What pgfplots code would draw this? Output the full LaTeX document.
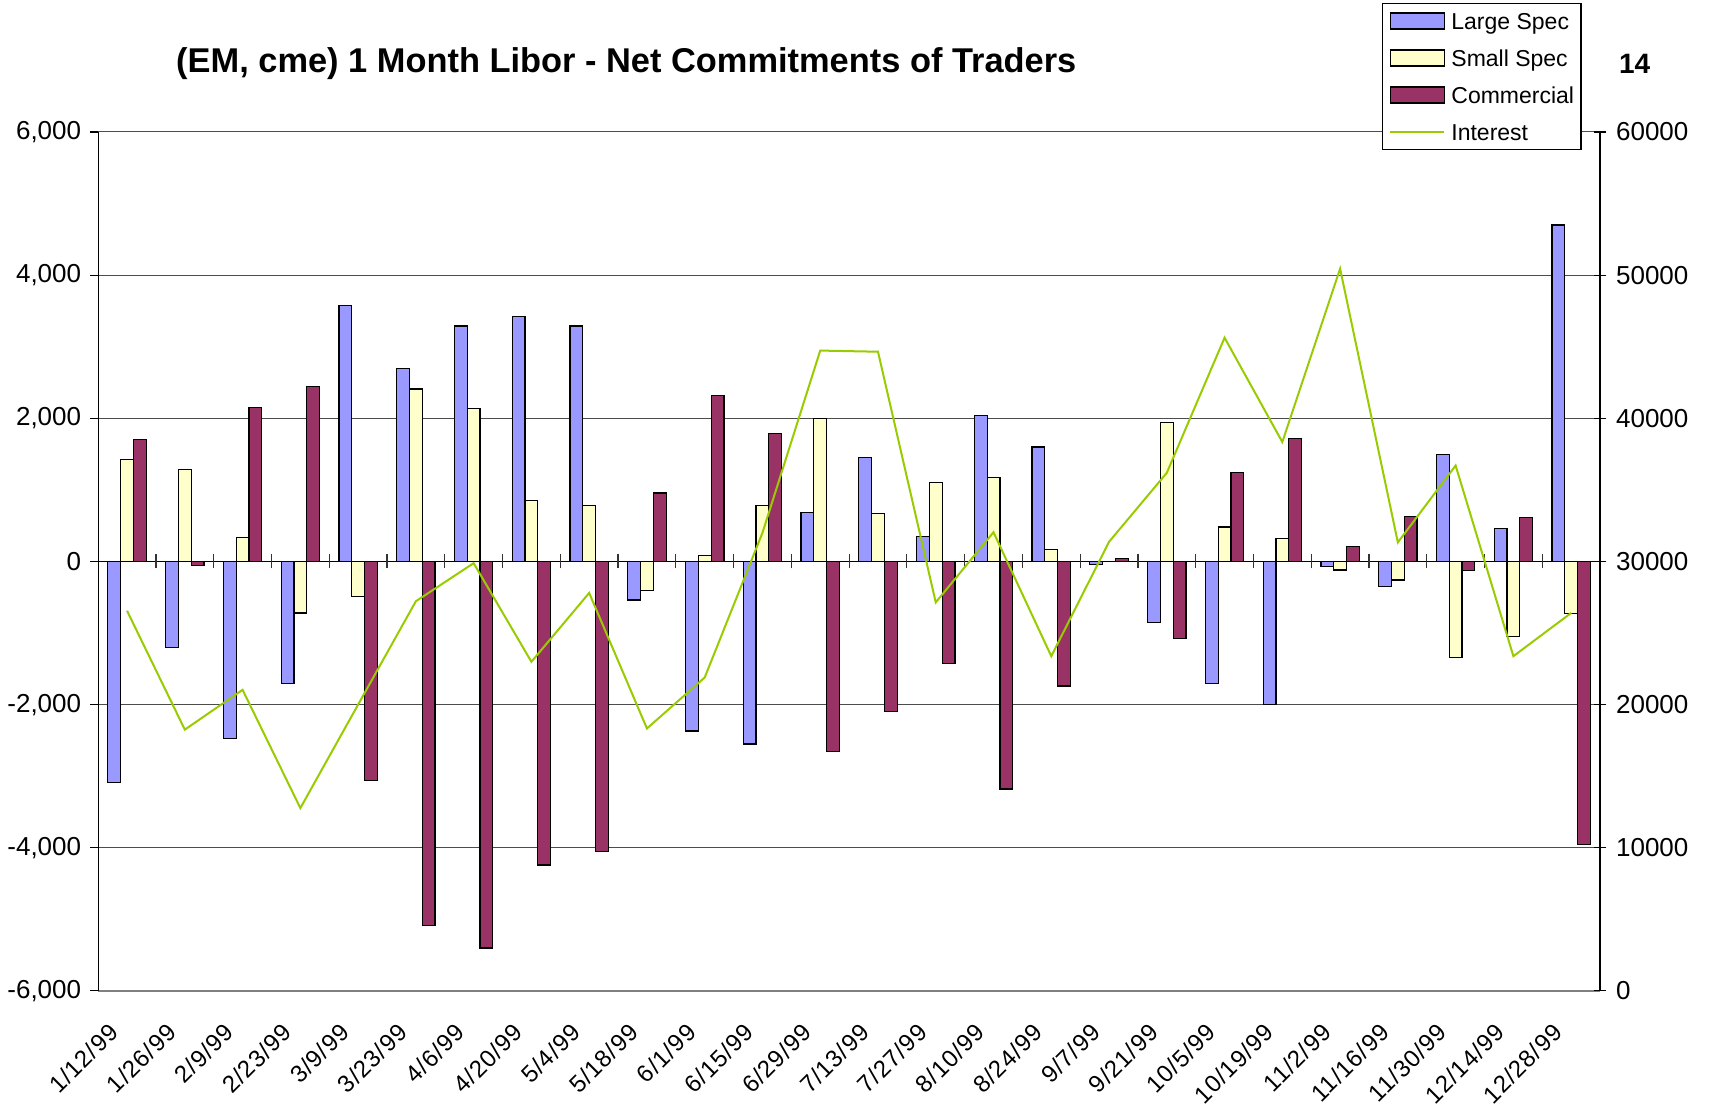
\documentclass[border=0pt]{standalone}
\usepackage{pgfplots}
\pgfplotsset{compat=1.18}
\usepackage{fontspec}
\setmainfont{Liberation Sans}
\newfontfamily\datefont[LetterSpace=4]{Liberation Sans}
\definecolor{lspec}{HTML}{9999FF}
\definecolor{sspec}{HTML}{FFFFCC}
\definecolor{comm}{HTML}{993366}
\definecolor{intr}{HTML}{99CC00}
\newcommand\tfont{\fontsize{13}{15}\selectfont}
\begin{document}
\begin{tikzpicture}
\useasboundingbox (-49.1pt,-58.5pt) rectangle (806.5pt,495.5pt);
\begin{axis}[
  name=bars,
  at={(0pt,0pt)}, anchor=south west,
  scale only axis, width=751pt, height=429.5pt,
  xmin=-0.5, xmax=25.5, ymin=-6000, ymax=6000,
  scaled y ticks=false,
  ybar=0pt, bar width=6.4pt,
  axis x line=bottom, axis y line=left,
  x axis line style={-, draw=gray, line width=1.3pt},
  y axis line style={-, black, line width=0.6pt},
  xtick={0,...,25},
  xticklabels={1/12/99,1/26/99,2/9/99,2/23/99,3/9/99,3/23/99,4/6/99,4/20/99,5/4/99,5/18/99,6/1/99,6/15/99,6/29/99,7/13/99,7/27/99,8/10/99,8/24/99,9/7/99,9/21/99,10/5/99,10/19/99,11/2/99,11/16/99,11/30/99,12/14/99,12/28/99},
  major x tick style={draw=none},
  xtick align=inside,
  xticklabel style={font=\datefont\fontsize{12}{14}\selectfont, xshift=-6.5pt, yshift=-18.5pt, rotate=45, anchor=east, inner sep=0pt},
  ytick={-6000,-4000,...,6000},
  yticklabels={{-6,000},{-4,000},{-2,000},0,{2,000},{4,000},{6,000}},
  ytick align=outside, major tick length=4pt,
  major y tick style={black, line width=0.6pt},
  yticklabel style={font=\tfont, xshift=-1pt},
  ymajorgrids, major grid style={black!70, line width=0.5pt},
  legend style={at={(0.8547,1.1502)}, anchor=north west, draw=black, fill=white,
    line width=0.6pt,
    font=\fontsize{11.5}{13}\selectfont, inner xsep=3.5pt, inner ysep=3pt,
    row sep=7pt, nodes={text height=10pt, text depth=1.5pt, inner sep=0pt},
    /tikz/every odd column/.append style={column sep=3pt}},
  legend cell align=left,
  clip=false,
]
\addplot[fill=lspec, draw=black, line width=0.6pt,
  legend image code/.code={\draw[fill=lspec, draw=black, line width=0.6pt] (0pt,-4pt) rectangle (27pt,4pt);}]
  coordinates {(0,-3090)(1,-1200)(2,-2470)(3,-1710)(4,3580)(5,2700)(6,3290)(7,3420)(8,3290)(9,-540)(10,-2370)(11,-2550)(12,680)(13,1455)(14,345)(15,2040)(16,1600)(17,-40)(18,-850)(19,-1700)(20,-2000)(21,-70)(22,-350)(23,1490)(24,460)(25,4700)};
\addlegendentry{Large Spec}
\addplot[fill=sspec, draw=black, line width=0.6pt,
  legend image code/.code={\draw[fill=sspec, draw=black, line width=0.6pt] (0pt,-4pt) rectangle (27pt,4pt);}]
  coordinates {(0,1420)(1,1280)(2,330)(3,-720)(4,-490)(5,2410)(6,2140)(7,850)(8,780)(9,-410)(10,80)(11,780)(12,2000)(13,675)(14,1100)(15,1170)(16,170)(17,0)(18,1940)(19,480)(20,320)(21,-120)(22,-260)(23,-1340)(24,-1050)(25,-730)};
\addlegendentry{Small Spec}
\addplot[fill=comm, draw=black, line width=0.6pt,
  legend image code/.code={\draw[fill=comm, draw=black, line width=0.6pt] (0pt,-4pt) rectangle (27pt,4pt);}]
  coordinates {(0,1700)(1,-60)(2,2150)(3,2440)(4,-3060)(5,-5090)(6,-5400)(7,-4240)(8,-4050)(9,955)(10,2320)(11,1790)(12,-2660)(13,-2100)(14,-1430)(15,-3180)(16,-1740)(17,45)(18,-1080)(19,1245)(20,1715)(21,210)(22,625)(23,-125)(24,610)(25,-3950)};
\addlegendentry{Commercial}
\addlegendimage{intr, line width=1pt, legend image code/.code={\draw[intr, line width=1pt] (0pt,0pt) -- (27pt,0pt);}}
\addlegendentry{Interest}
\draw[black, line width=0.6pt] (axis cs:-0.5,0) -- (axis cs:25.5,0);
\pgfplotsinvokeforeach{0.5,1.5,...,24.5}{\draw[black!80, line width=0.6pt] (axis cs:#1,0) ++(0pt,-3.5pt) -- ++(0pt,7pt);}
\end{axis}
\begin{axis}[
  at={(0pt,0pt)}, anchor=south west,
  scale only axis, width=751pt, height=429.5pt,
  xmin=-0.5, xmax=25.5, ymin=0, ymax=60000,
  scaled y ticks=false,
  axis x line=none, axis y line=right,
  y axis line style={-, black, line width=0.6pt},
  ytick={0,10000,...,60000},
  yticklabels={0,10000,20000,30000,40000,50000,60000},
  ytick align=center, major tick length=6pt,
  major y tick style={black, line width=0.6pt},
  yticklabel style={font=\tfont, xshift=1.5pt},
]
\addplot[intr, line width=1pt, mark=none]
  coordinates {(0,26550)(1,18250)(2,21030)(3,12770)(4,20000)(5,27220)(6,29880)(7,22990)(8,27800)(9,18330)(10,21890)(11,32000)(12,44730)(13,44650)(14,27140)(15,32040)(16,23380)(17,31370)(18,36190)(19,45630)(20,38340)(21,50450)(22,31330)(23,36700)(24,23380)(25,26400)};
\end{axis}
\node[anchor=base west, font=\fontsize{17.2}{20}\selectfont\bfseries] at (35.5pt,459pt) {(EM, cme) 1 Month Libor - Net Commitments of Traders};
\node[anchor=base west, font=\fontsize{14}{16}\selectfont\bfseries] at (757pt,458.5pt) {14};
\end{tikzpicture}
\end{document}
